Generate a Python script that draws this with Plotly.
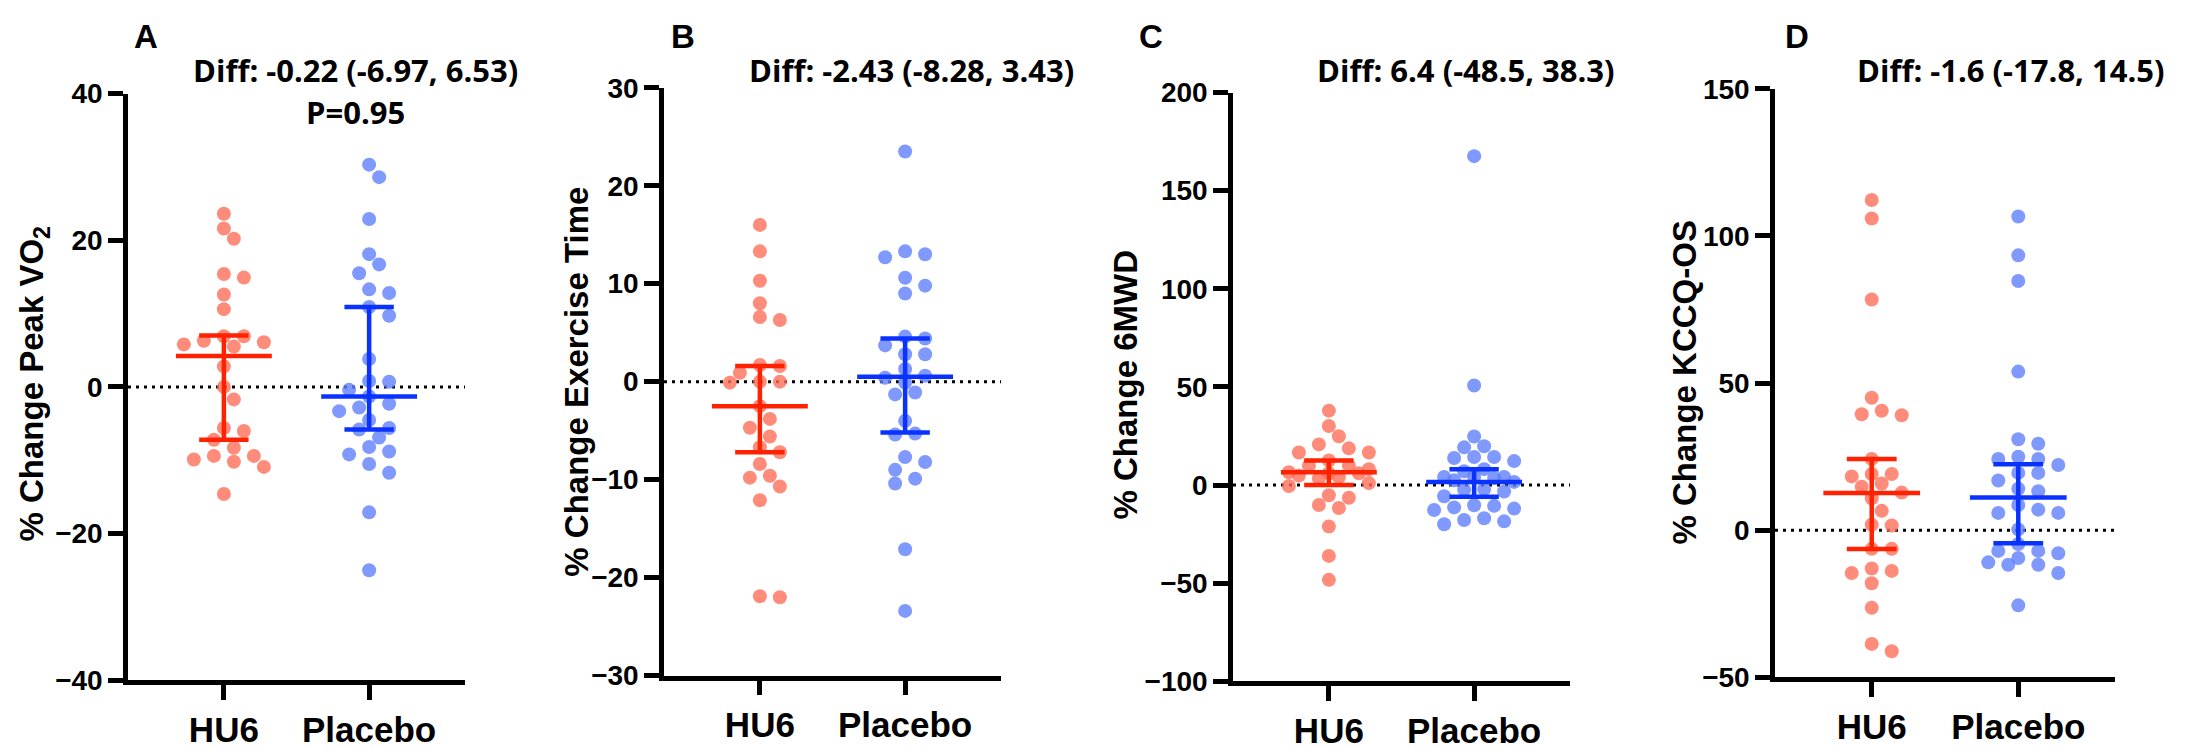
import plotly.graph_objects as go

# ---------------- data ----------------
groups = ["HU6", "Placebo"]
panel_letters = ["A", "B", "C", "D"]
y_titles = ["% Change Peak VO<sub>2</sub>", "% Change Exercise Time",
            "% Change 6MWD", "% Change KCCQ-OS"]
diff_texts = ["Diff: -0.22 (-6.97, 6.53)", "Diff: -2.43 (-8.28, 3.43)",
              "Diff: 6.4 (-48.5, 38.3)", "Diff: -1.6 (-17.8, 14.5)"]
p_text_A = "P=0.95"

y_ranges = [(-40, 40), (-30, 30), (-100, 200), (-50, 150)]
y_dticks = [20, 10, 50, 50]

a_hu6 = [23.6, 21.6, 20.2, 15.4, 14.9, 12.6, 10.6, 6.9, 6.9, 6.3, 6.1, 5.8, 5.5, 2.8,
         0.0, -1.7, -5.6, -6.0, -7.2, -8.3, -9.4, -9.4, -9.9, -10.2, -10.9, -14.6]
a_pla = [30.3, 28.6, 22.9, 18.1, 16.7, 15.5, 13.3, 12.8, 10.9, 9.7, 3.8, 0.8, 0.7, -0.4,
         -1.3, -2.3, -2.8, -3.3, -4.5, -5.6, -5.8, -6.9, -8.2, -8.8, -9.2, -10.5, -11.7,
         -17.1, -25.0]
a_hu6_stat = [4.2, -7.2, 7.0]      # center, lower, upper
a_pla_stat = [-1.3, -5.8, 10.9]

b_hu6 = [16.0, 13.3, 10.3, 8.0, 6.6, 6.3, 1.7, 1.6, 0.9, 0.0, 0.0, -0.1, -2.5, -3.8,
         -4.7, -5.6, -6.7, -7.2, -8.4, -9.6, -9.8, -10.7, -12.1, -21.9, -22.0]
b_pla = [23.5, 13.3, 13.0, 12.7, 10.6, 9.8, 9.0, 4.6, 4.4, 3.7, 2.8, 2.8, 1.3, 0.6, 0.4,
         -0.1, -1.1, -1.3, -4.0, -5.3, -5.4, -7.7, -8.2, -9.0, -9.9, -10.4, -17.1, -23.4]
b_hu6_stat = [-2.5, -7.2, 1.6]
b_pla_stat = [0.5, -5.2, 4.4]

c_hu6 = [37.9, 30.1, 24.9, 20.7, 18.7, 16.6, 16.6, 12.5, 9.8, 9.8, 8.1, 6.5, 6.0, 6.0,
         4.9, 4.1, 3.3, 1.0, -0.5, -5.2, -6.5, -10.2, -11.7, -21.1, -36.1, -48.3]
c_pla = [167.6, 50.7, 24.7, 19.8, 19.2, 14.3, 14.3, 13.8, 12.2, 8.1, 7.0, 4.1, 4.1, 4.1,
         3.6, 2.4, 1.6, -2.0, -2.4, -3.3, -5.7, -10.3, -10.6, -11.4, -12.0, -12.7, -16.9,
         -17.8, -18.5, -20.0]
c_hu6_stat = [6.5, 0.0, 12.5]
c_pla_stat = [1.6, -6.0, 8.1]

d_hu6 = [112.2, 105.9, 78.4, 45.0, 40.6, 39.4, 39.1, 24.2, 19.1, 19.1, 18.3, 15.9, 14.8,
         12.8, 10.9, 6.6, 1.9, 1.6, -6.3, -6.3, -13.0, -13.8, -14.5, -18.0, -26.3, -38.6,
         -41.1]
d_pla = [106.6, 93.4, 84.7, 53.9, 30.9, 29.4, 25.0, 24.2, 24.2, 22.2, 19.5, 19.5, 16.9,
         14.1, 13.3, 8.6, 7.0, 5.9, 5.9, 0.3, -4.7, -7.0, -7.0, -7.8, -9.4, -10.9, -11.7,
         -11.7, -14.5, -25.5]
d_hu6_stat = [12.7, -6.4, 24.2]
d_pla_stat = [11.1, -4.4, 22.4]

panel_data = [(a_hu6, a_pla), (b_hu6, b_pla), (c_hu6, c_pla), (d_hu6, d_pla)]
panel_stats = [(a_hu6_stat, a_pla_stat), (b_hu6_stat, b_pla_stat),
               (c_hu6_stat, c_pla_stat), (d_hu6_stat, d_pla_stat)]

# ---------------- layout / style ----------------
W, H = 2187, 750
plot_px = [  # (left, right, top, bottom) in pixels
    (128, 465, 82, 695),
    (664, 1001, 76, 690),
    (1233, 1570, 81, 696),
    (1775, 2115, 77, 692),
]
letter_px = [(146, 22), (683, 22), (1151, 22), (1797, 22)]
diff_px = [(355, 57), (911, 57), (1466, 57), (2011, 57)]
ptext_px = (355, 101)
ytitle_px = [(34, 386), (577, 383), (1126, 386), (1685, 384)]

X_RANGE = (-0.66, 1.66)
dot_colors = ["#FF6F59", "#5F80FF"]
line_colors = ["#FF2200", "#0A32FF"]
MARKER_D = 14
MAX_SPREAD_PX = 42
TICK_FONT = dict(family="Liberation Sans", size=28, color="black", weight="bold")
XTICK_FONT = dict(family="Liberation Sans", size=35, color="black", weight="bold")


def swarm_offsets(values, px_per_unit_y, px_per_unit_x, grid=10.0, dmin=14.0,
                  max_off=MAX_SPREAD_PX):
    """Beeswarm with a capped half-width: returns x offsets in data units."""
    order = sorted(range(len(values)), key=lambda i: -values[i])
    placed = []
    offs = [0.0] * len(values)
    cands = [0.0]
    k = 1
    while k * grid <= max_off + 0.1:
        cands += [k * grid, -k * grid]
        k += 1
    for i in order:
        yp = values[i] * px_per_unit_y
        best, best_d = None, -1.0
        for c in cands:
            dmin_here = min([((c - px) ** 2 + (yp - py) ** 2) ** 0.5
                             for px, py in placed] or [1e9])
            if dmin_here >= dmin:
                best = c
                break
            if dmin_here > best_d:
                best, best_d = c, dmin_here
        offs[i] = best
        placed.append((best, yp))
    return [o / px_per_unit_x for o in offs]


fig = go.Figure()
annotations = []
shapes = []

for p in range(4):
    left, right, top, bottom = plot_px[p]
    ax_idx = "" if p == 0 else str(p + 1)
    xa, ya = "x" + ax_idx, "y" + ax_idx
    ymin, ymax = y_ranges[p]
    ppy = (bottom - top) / (ymax - ymin)
    ppx = (right - left) / (X_RANGE[1] - X_RANGE[0])

    # points
    for g in range(2):
        vals = panel_data[p][g]
        offs = swarm_offsets(vals, ppy, ppx)
        fig.add_trace(go.Scatter(
            x=[g + o for o in offs], y=vals, mode="markers",
            marker=dict(size=MARKER_D, color=dot_colors[g], opacity=0.8,
                        line=dict(width=0)),
            xaxis=xa, yaxis=ya, showlegend=False, hoverinfo="skip", cliponaxis=False))

    # center line + error bars
    for g in range(2):
        c, lo, hi = panel_stats[p][g]
        xs = [g - 0.33, g + 0.33, None, g, g, None,
              g - 0.17, g + 0.17, None, g - 0.17, g + 0.17]
        ys = [c, c, None, lo, hi, None, lo, lo, None, hi, hi]
        fig.add_trace(go.Scatter(
            x=xs, y=ys, mode="lines",
            line=dict(color=line_colors[g], width=4.5),
            xaxis=xa, yaxis=ya, showlegend=False, hoverinfo="skip", cliponaxis=False))

    # zero dotted line
    shapes.append(dict(type="line", xref=xa, yref=ya, x0=X_RANGE[0], x1=X_RANGE[1],
                       y0=0, y1=0, line=dict(color="black", width=3, dash="3px,5px"),
                       layer="below"))

    axis_common = dict(showline=True, linewidth=4.5, linecolor="black", mirror=False,
                       ticks="outside", ticklen=15, tickwidth=4.5, tickcolor="black",
                       showgrid=False, zeroline=False, fixedrange=True)
    fig.update_layout(**{
        "xaxis" + ax_idx: dict(domain=[left / W, right / W], range=list(X_RANGE),
                               tickvals=[0, 1], ticktext=groups, tickfont=XTICK_FONT,
                               anchor=ya, **axis_common),
        "yaxis" + ax_idx: dict(domain=[1 - bottom / H, 1 - top / H],
                               range=[ymin, ymax], dtick=y_dticks[p], tick0=0,
                               tickfont=TICK_FONT, anchor=xa, **axis_common),
    })

    # letters
    lx, ly = letter_px[p]
    annotations.append(dict(text="<b>" + panel_letters[p] + "</b>", x=lx / W, y=1 - ly / H,
                            xref="paper", yref="paper", showarrow=False,
                            xanchor="center", yanchor="middle",
                            font=dict(family="Liberation Sans", size=33, color="black")))
    # diff text
    dx, dy = diff_px[p]
    annotations.append(dict(text="<b>" + diff_texts[p] + "</b>", x=dx / W, y=1 - dy / H,
                            xref="paper", yref="paper", showarrow=False,
                            xanchor="center", yanchor="middle",
                            font=dict(family="Open Sans", size=31, color="black")))
    # y title
    tx, ty = ytitle_px[p]
    annotations.append(dict(text="<b>" + y_titles[p] + "</b>", x=tx / W, y=1 - ty / H,
                            xref="paper", yref="paper", showarrow=False, textangle=-90,
                            xanchor="center", yanchor="middle",
                            font=dict(family="Liberation Sans", size=33, color="black")))

annotations.append(dict(text="<b>" + p_text_A + "</b>", x=ptext_px[0] / W,
                        y=1 - ptext_px[1] / H, xref="paper", yref="paper",
                        showarrow=False, xanchor="center", yanchor="middle",
                        font=dict(family="Open Sans", size=31, color="black")))

fig.update_layout(width=W, height=H, margin=dict(l=0, r=0, t=0, b=0),
                  paper_bgcolor="white", plot_bgcolor="white",
                  annotations=annotations, shapes=shapes, showlegend=False)

fig.write_html("out.html")
